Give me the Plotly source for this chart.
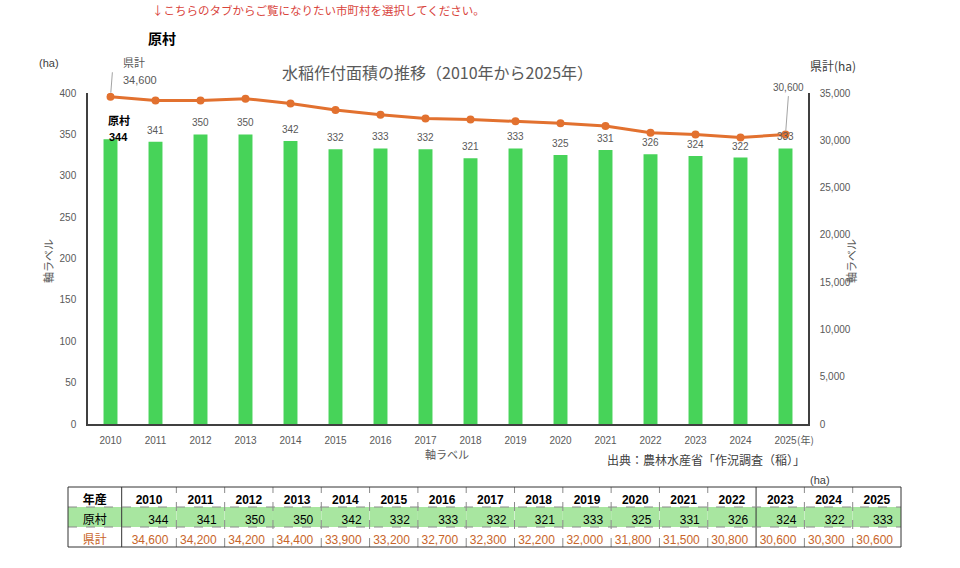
import plotly.graph_objects as go

# ---------------- data ----------------
years = [str(y) for y in range(2010, 2026)]
hara = [344, 341, 350, 350, 342, 332, 333, 332, 321, 333, 325, 331, 326, 324, 322, 333]
kenkei = [34600, 34200, 34200, 34400, 33900, 33200, 32700, 32300, 32200, 32000,
          31800, 31500, 30800, 30600, 30300, 30600]
left_ticks = list(range(0, 401, 50))
right_ticks = list(range(0, 35001, 5000))

W, H = 960, 568
def px(x):
    return x / W
def py(y):
    return 1 - y / H

FONT = "Liberation Sans, Noto Sans CJK JP, sans-serif"
JP = "Noto Sans CJK JP, sans-serif"
GRAY = "#595959"
BAR = "#47D359"
LINE = "#E2712F"
TBL_ORANGE = "#C8652A"
TBL_GREEN = "#A8E6A0"

fig = go.Figure()

fig.add_trace(go.Bar(
    x=years, y=hara, marker=dict(color=BAR, line=dict(width=0)),
    yaxis="y", showlegend=False,
))
fig.add_trace(go.Scatter(
    x=years, y=kenkei, yaxis="y2", mode="lines+markers",
    line=dict(color=LINE, width=3), marker=dict(color=LINE, size=8),
    showlegend=False,
))

# table
TX0, TX1, TY0, TY1 = 68, 901, 487, 547
colw = [54, 55] + [48.6] * 15
col_vals = [["原村", "県計"]] + [[f"{h:,}", f"{k:,}"] for h, k in zip(hara, kenkei)]
fig.add_trace(go.Table(
    domain=dict(x=[px(TX0), px(TX1)], y=[py(550), py(TY0)]),
    columnwidth=colw,
    header=dict(
        values=["年産"] + years,
        fill=dict(color="white"),
        font=dict(family=FONT, size=12, color="black", weight="bold"),
        align="center", height=20,
        line=dict(color="rgba(0,0,0,0)", width=0),
    ),
    cells=dict(
        values=col_vals,
        fill=dict(color=[[TBL_GREEN, "white"]] * 17),
        font=dict(family=FONT, size=12, color=[["black", TBL_ORANGE]] * 17),
        align=["center"] + ["right"] * 16, height=20,
        line=dict(color="rgba(0,0,0,0)", width=0),
    ),
))

# table grid lines
shapes = []
tot = sum(colw)
cum = 0
for j, w in enumerate(colw[:-1]):
    cum += w
    xb = TX0 + cum / tot * (TX1 - TX0)
    solid = (j == 0) or (j == 13)
    shapes.append(dict(type="line", xref="paper", yref="paper", x0=px(xb), x1=px(xb),
                       y0=py(TY1), y1=py(TY0), layer="above",
                       line=dict(color="#333333" if solid else "#8a8a8a", width=1,
                                 dash="solid" if solid else "dash")))
for yb in (507, 527):
    shapes.append(dict(type="line", xref="paper", yref="paper", x0=px(TX0), x1=px(TX1),
                       y0=py(yb), y1=py(yb), layer="above",
                       line=dict(color="#8a8a8a", width=1, dash="dash")))
shapes.append(dict(type="rect", xref="paper", yref="paper", x0=px(TX0), x1=px(TX1),
                   y0=py(TY1), y1=py(TY0), line=dict(color="#333333", width=1), layer="above"))

ann = []
# bar value labels (x given as category index)
for i, v in enumerate(hara):
    if i == 0:
        continue
    ann.append(dict(x=i, y=v, xref="x", yref="y", text=str(v), showarrow=False,
                    yanchor="bottom", yshift=4, font=dict(size=10, color=GRAY, family=FONT)))
ann.append(dict(x=0, y=hara[0], xref="x", yref="y", text=f"<b>{hara[0]}</b>",
                showarrow=False, yanchor="middle", yshift=2, xshift=8,
                font=dict(size=11, color="black", family=FONT)))
ann.append(dict(x=0, y=hara[0], xref="x", yref="y", text="<b>原村</b>",
                showarrow=False, yanchor="middle", yshift=19, xshift=8,
                font=dict(size=11, color="black", family=JP)))

# line labels with leaders
ann.append(dict(x=0, y=kenkei[0], xref="x", yref="y2", text="", showarrow=True,
                arrowhead=0, ax=2, ay=-26, arrowwidth=0.8, arrowcolor="#8c8c8c", standoff=4))
ann.append(dict(x=0, y=kenkei[0], xref="x", yref="y2", text="県計",
                showarrow=False, xanchor="left", xshift=10, yshift=35,
                font=dict(size=11, color=GRAY, family=JP)))
ann.append(dict(x=0, y=kenkei[0], xref="x", yref="y2", text=f"{kenkei[0]:,}",
                showarrow=False, xanchor="left", xshift=10, yshift=17,
                font=dict(size=11, color=GRAY, family=FONT)))
ann.append(dict(x=len(years) - 1, y=kenkei[-1], xref="x", yref="y2", text="", showarrow=True,
                arrowhead=0, ax=3, ay=-40, arrowwidth=0.8, arrowcolor="#8c8c8c", standoff=4))
ann.append(dict(x=len(years) - 1, y=kenkei[-1], xref="x", yref="y2", text=f"{kenkei[-1]:,}",
                showarrow=False, xshift=3, yshift=47,
                font=dict(size=10, color=GRAY, family=FONT)))

# texts in paper coords
def txt(x, y, t, size, color=GRAY, anchor="center", family=JP, angle=0):
    ann.append(dict(x=px(x), y=py(y), xref="paper", yref="paper", text=t, showarrow=False,
                    xanchor=anchor, yanchor="middle", textangle=angle,
                    font=dict(size=size, color=color, family=family)))

txt(150, 10, "↓こちらのタブからご覧になりたい市町村を選択してください。", 11.5, "#D9443C", "left")
txt(162, 38, "<b>原村</b>", 14, "black")
txt(37, 63, "(ha)", 11, "#404040", "left", FONT)
txt(437, 72, "水稲作付面積の推移（2010年から2025年）", 16, GRAY)
txt(808, 65, "県計(ha)", 12, "#404040", "left")
txt(48, 261, "軸ラベル", 11, GRAY, angle=-90)
txt(851, 261, "軸ラベル", 11, GRAY, angle=-90)
txt(447, 454, "軸ラベル", 11, GRAY)
txt(795, 439, "(年)", 10, GRAY, "left")
txt(807, 459, "出典：農林水産省「作況調査（稲）」", 12, "#404040", "right")
txt(808, 480, "(ha)", 11, "#404040", "left", FONT)

fig.update_layout(
    width=W, height=H, margin=dict(l=0, r=0, t=0, b=0),
    paper_bgcolor="white", plot_bgcolor="white",
    font=dict(family=FONT, color=GRAY),
    bargap=0.69, showlegend=False,
    xaxis=dict(domain=[px(88), px(808)], type="category", range=[-0.5, 15.5],
               showline=True, linecolor="#404040", linewidth=1.5, showgrid=False,
               ticks="", tickfont=dict(size=10, color=GRAY), ticklabelstandoff=6,
               tickvals=years, ticktext=years, automargin=False, anchor="y"),
    yaxis=dict(domain=[py(424), py(93)], range=[0, 400], tickvals=left_ticks,
               showline=True, linecolor="#404040", linewidth=1.5, showgrid=False,
               zeroline=False, ticks="", tickfont=dict(size=10, color=GRAY),
               ticklabelstandoff=8, automargin=False),
    yaxis2=dict(domain=[py(424), py(93)], range=[0, 35000], tickvals=right_ticks,
                overlaying="y", side="right", anchor="x",
                showline=True, linecolor="#404040", linewidth=1.5, showgrid=False,
                zeroline=False, ticks="", tickformat=",d", tickfont=dict(size=10, color=GRAY),
                ticklabelstandoff=8, automargin=False),
    annotations=ann,
    shapes=shapes,
)

fig.write_html("out.html")
